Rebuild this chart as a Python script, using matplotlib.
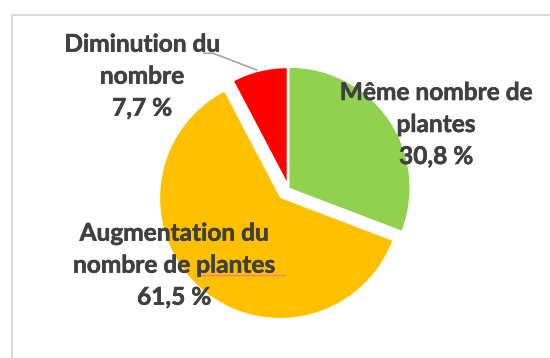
import matplotlib
matplotlib.use("Agg")
import matplotlib.pyplot as plt
import matplotlib.patheffects as pe
from matplotlib.patches import Rectangle
from matplotlib.lines import Line2D

categories = ["Même nombre de plantes", "Augmentation du nombre de plantes", "Diminution du nombre"]
shares = [30.8, 61.5, 7.7]
colors = ["#92D050", "#FFC000", "#FF0000"]

W, H = 550, 358
fig = plt.figure(figsize=(W / 100, H / 100), dpi=100)
ax = fig.add_axes([0, 0, 1, 1])

def Y(y):
    # convert a top-down pixel row into the axes' upward coordinate
    return H - y

radius = 120
# explode offsets are in the same pixel units as the axes
wedges, _ = ax.pie(shares, colors=colors, startangle=90, counterclock=False,
                   explode=[1.2, 12.6, 7.5], radius=radius,
                   center=(288.5, Y(188.5)), frame=True,
                   wedgeprops=dict(linewidth=0))
wedges[2].set_radius(113)
ax.set_xlim(0, W)
ax.set_ylim(0, H)
ax.set_aspect("equal")
ax.axis("off")

# chart frame
ax.add_patch(Rectangle((12, Y(380)), 560, 365, fill=False,
                       edgecolor="#D9D9D9", linewidth=1.5, zorder=0))

txt = dict(fontfamily="Lato", fontweight="bold", color="#404040",
           fontsize=17.6, ha="center", va="baseline",
           path_effects=[pe.withStroke(linewidth=0.4, foreground="#404040")])

def label(lines, x, y0, step=32):
    for i, s in enumerate(lines):
        ax.text(x, Y(y0 + i * step), s, **txt)

fmt = lambda v: f"{v:.1f}".replace(".", ",") + " %"

label(["Diminution du", "nombre", fmt(shares[2])], 142, 51.7)
label(["Même nombre de", "plantes", fmt(shares[0])], 436, 100)
label(["Augmentation du", "nombre de plantes", fmt(shares[1])], 174, 240.7)

# leader line to the small slice
ax.add_line(Line2D([204, 213.3, 256.7], [Y(53.3), Y(53.3), Y(70)],
                   color="#A6A6A6", linewidth=1.2))
# spell-check underline under "plantes"
ax.add_line(Line2D([198, 285], [Y(274.5), Y(274.5)],
                   color="#F08080", linewidth=0.9))

fig.savefig("out.png", dpi=100)
